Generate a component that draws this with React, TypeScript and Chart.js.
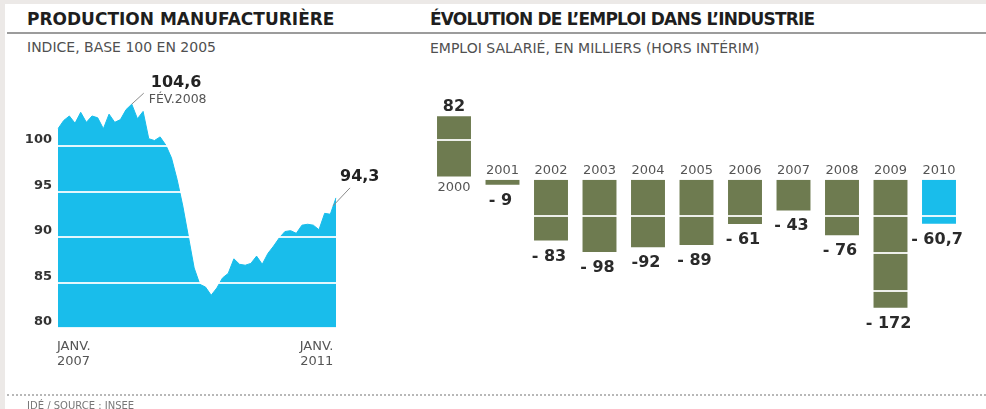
import React, { useEffect, useRef } from "react";
import { Chart, registerables } from "chart.js";

Chart.register(...registerables);

const FONT = "'DejaVu Sans', sans-serif";

// ---- Left chart: production manufacturière (indice, base 100 en 2005), monthly Jan 2007 – Feb 2011
const productionStartYear = 2007;
const monthNames = ["JANV.", "FÉV.", "MARS", "AVR.", "MAI", "JUIN", "JUIL.", "AOÛT", "SEPT.", "OCT.", "NOV.", "DÉC."];
const productionValues = [
  101.9, 102.8, 103.3, 102.5, 103.7, 102.6, 103.3, 103.1, 101.9, 103.5, 102.6, 102.9,
  104.0, 104.6, 103.0, 103.8, 100.8, 100.6, 101.0, 100.1, 98.7, 96.3, 93.4, 90.0,
  86.6, 84.8, 84.5, 83.6, 84.4, 85.5, 86.0, 87.6, 87.0, 86.9, 87.1, 87.9,
  87.0, 88.2, 89.0, 89.9, 90.6, 90.7, 90.4, 91.3, 91.4, 91.3, 90.8, 92.6,
  92.5, 94.3,
];
const productionMonths: string[] = productionValues.map(
  (_, i) => `${monthNames[i % 12]} ${productionStartYear + Math.floor(i / 12)}`
);
const productionAxisLabels = ["JANV. 2007", "JANV. 2011"];
const productionYTicks = [80, 85, 90, 95, 100];
const peakValueLabel = "104,6";
const peakDateLabel = "FÉV.2008";
const lastValueLabel = "94,3";

// ---- Right chart: évolution de l'emploi dans l'industrie (milliers)
const employmentYears = ["2000", "2001", "2002", "2003", "2004", "2005", "2006", "2007", "2008", "2009", "2010"];
const employmentChange = [82, -9, -83, -98, -92, -89, -61, -43, -76, -172, -60.7];
const employmentLabels = ["82", "- 9", "- 83", "- 98", "-92", "- 89", "- 61", "- 43", "- 76", "- 172", "- 60,7"];
const highlightYear = "2010";

const BLUE = "#19BDEB";
const OLIVE = "#6E7B50";
const GRID_WHITE = "rgba(255,255,255,0.88)";

export default function App() {
  const leftRef = useRef<HTMLCanvasElement>(null);
  const rightRef = useRef<HTMLCanvasElement>(null);

  useEffect(() => {
    Chart.defaults.font.family = FONT;

    const leftLabels = {
      id: "leftLabels",
      afterDraw(chart: any) {
        const ctx = chart.ctx;
        const xs = chart.scales.x;
        const ys = chart.scales.y;
        ctx.save();
        // x axis labels (two lines)
        ctx.fillStyle = "#555";
        ctx.font = `13px ${FONT}`;
        ctx.textBaseline = "alphabetic";
        productionAxisLabels.forEach((lab, k) => {
          const idx = productionMonths.indexOf(lab);
          if (idx < 0) return;
          const px = xs.getPixelForValue(idx);
          const parts = lab.split(" ");
          ctx.textAlign = k === 0 ? "left" : "right";
          const x = k === 0 ? px - 1 : px + 3;
          ctx.fillText(parts[0], x, 350);
          ctx.fillText(parts[1], x, 364.5);
        });
        // peak annotation
        let peak = 0;
        productionValues.forEach((v, i) => { if (v > productionValues[peak]) peak = i; });
        const pkx = xs.getPixelForValue(peak);
        const pky = ys.getPixelForValue(productionValues[peak]);
        ctx.strokeStyle = "#8a8a8a";
        ctx.lineWidth = 1;
        ctx.beginPath();
        ctx.moveTo(pkx, pky);
        ctx.lineTo(pkx + 12, pky - 11);
        ctx.stroke();
        ctx.textAlign = "left";
        ctx.fillStyle = "#222";
        ctx.font = `bold 16px ${FONT}`;
        ctx.fillText(peakValueLabel, pkx + 19, pky - 17);
        ctx.fillStyle = "#555";
        ctx.font = `12.5px ${FONT}`;
        ctx.fillText(peakDateLabel, pkx + 17, pky - 1);
        // last value annotation
        const last = productionValues.length - 1;
        const lx = xs.getPixelForValue(last);
        const ly = ys.getPixelForValue(productionValues[last]);
        ctx.beginPath();
        ctx.moveTo(lx - 3, ly + 8);
        ctx.lineTo(lx + 14, ly - 10);
        ctx.stroke();
        ctx.fillStyle = "#222";
        ctx.font = `bold 16px ${FONT}`;
        ctx.fillText(lastValueLabel, lx + 4, ly - 17);
        ctx.restore();
      },
    };

    const left = new Chart(leftRef.current!, {
      type: "line",
      data: {
        labels: productionMonths,
        datasets: [
          {
            data: productionValues,
            borderColor: BLUE,
            backgroundColor: BLUE,
            borderWidth: 1,
            pointRadius: 0,
            tension: 0,
            fill: "start",
          },
        ],
      },
      options: {
        animation: false,
        responsive: false,
        devicePixelRatio: 1,
        layout: { padding: { left: 8, right: 64, top: 100.5, bottom: 81 } },
        plugins: { legend: { display: false }, tooltip: { enabled: false } },
        scales: {
          x: { type: "category", display: false },
          y: {
            min: 80,
            max: 105,
            afterFit: (s: any) => { s.width = 50; },
            afterBuildTicks: (s: any) => { s.ticks = [...productionYTicks, 105].map((v) => ({ value: v })); },
            border: { display: false },
            grid: { color: GRID_WHITE, lineWidth: 2, drawTicks: false, z: 1 },
            ticks: {
              padding: 6,
              labelOffset: -6,
              color: "#333",
              font: { family: FONT, size: 13, weight: "bold" },
              callback: (v: any) => (productionYTicks.includes(Number(v)) ? String(v) : ""),
            },
          },
        },
      },
      plugins: [leftLabels],
    } as any);

    const barLabels = {
      id: "barLabels",
      afterDraw(chart: any) {
        const ctx = chart.ctx;
        const meta = chart.getDatasetMeta(0);
        ctx.save();
        ctx.textAlign = "center";
        ctx.textBaseline = "alphabetic";
        meta.data.forEach((el: any, i: number) => {
          const v = employmentChange[i];
          const x = el.x;
          const zero = el.base;
          const end = el.y;
          if (v >= 0) {
            ctx.font = `bold 16px ${FONT}`;
            ctx.fillStyle = "#2a2a2a";
            ctx.fillText(employmentLabels[i], x, end - 5);
            ctx.font = `13px ${FONT}`;
            ctx.fillStyle = "#555";
            ctx.fillText(employmentYears[i], x, zero + 14);
          } else {
            ctx.font = `13px ${FONT}`;
            ctx.fillStyle = "#555";
            ctx.fillText(employmentYears[i], x, zero - 6);
            ctx.font = `bold 16px ${FONT}`;
            ctx.fillStyle = "#2a2a2a";
            ctx.fillText(employmentLabels[i], x - 2, end + 20);
          }
        });
        ctx.restore();
      },
    };

    const right = new Chart(rightRef.current!, {
      type: "bar",
      data: {
        labels: employmentYears,
        datasets: [
          {
            data: employmentChange,
            backgroundColor: employmentYears.map((y) => (y === highlightYear ? BLUE : OLIVE)),
            borderWidth: 0,
            barPercentage: 0.7,
            categoryPercentage: 1,
          },
        ],
      },
      options: {
        animation: false,
        responsive: false,
        devicePixelRatio: 1,
        layout: { padding: { left: 9.75, right: 22.75, top: 102.6, bottom: 80.2 } },
        plugins: { legend: { display: false }, tooltip: { enabled: false } },
        scales: {
          x: { type: "category", display: false },
          y: {
            min: -200,
            max: 100,
            afterFit: (s: any) => { s.width = 0; },
            border: { display: false },
            grid: {
              color: GRID_WHITE,
              lineWidth: (c: any) => (c.tick && c.tick.value === 0 ? 3 : 2),
              drawTicks: false,
              z: 1,
            },
            ticks: { display: false, stepSize: 50 },
          },
        },
      },
      plugins: [barLabels],
    } as any);

    return () => {
      left.destroy();
      right.destroy();
    };
  }, []);

  const abs = (s: React.CSSProperties): React.CSSProperties => ({ position: "absolute", ...s });

  return (
    <div style={abs({ left: 0, top: 0, width: 986, height: 409, background: "#ECE9E7", overflow: "hidden", fontFamily: FONT })}>
      <div style={abs({ left: 5, top: 4, right: 0, bottom: 0, background: "#fff" })} />
      <div style={abs({ left: 27, top: 11, fontSize: 17, lineHeight: "17px", fontWeight: "bold", color: "#1e1e1e", whiteSpace: "nowrap" })}>
        PRODUCTION MANUFACTURIÈRE
      </div>
      <div style={abs({ left: 430, top: 11, fontSize: 17, lineHeight: "17px", fontWeight: "bold", color: "#1e1e1e", whiteSpace: "nowrap", letterSpacing: "-0.8px" })}>
        ÉVOLUTION DE L’EMPLOI DANS L’INDUSTRIE
      </div>
      <div style={abs({ left: 7, top: 32, width: 979, height: 2, background: "#9c9c9c" })} />
      <div style={abs({ left: 27, top: 40, fontSize: 14, lineHeight: "14px", color: "#505050", whiteSpace: "nowrap" })}>
        INDICE, BASE 100 EN 2005
      </div>
      <div style={abs({ left: 430, top: 41, fontSize: 14, lineHeight: "14px", color: "#505050", whiteSpace: "nowrap" })}>
        EMPLOI SALARIÉ, EN MILLIERS (HORS INTÉRIM)
      </div>
      <canvas ref={leftRef} width={400} height={409} style={abs({ left: 0, top: 0, width: 400, height: 409 })} />
      <canvas ref={rightRef} width={566} height={409} style={abs({ left: 420, top: 0, width: 566, height: 409 })} />
      <div style={abs({ left: 7, top: 394, width: 979, height: 0, borderTop: "2px dotted #b8b8b8" })} />
      <div style={abs({ left: 27, top: 401, fontSize: 10, lineHeight: "10px", color: "#777", whiteSpace: "nowrap" })}>
        IDÉ / SOURCE : INSEE
      </div>
    </div>
  );
}
